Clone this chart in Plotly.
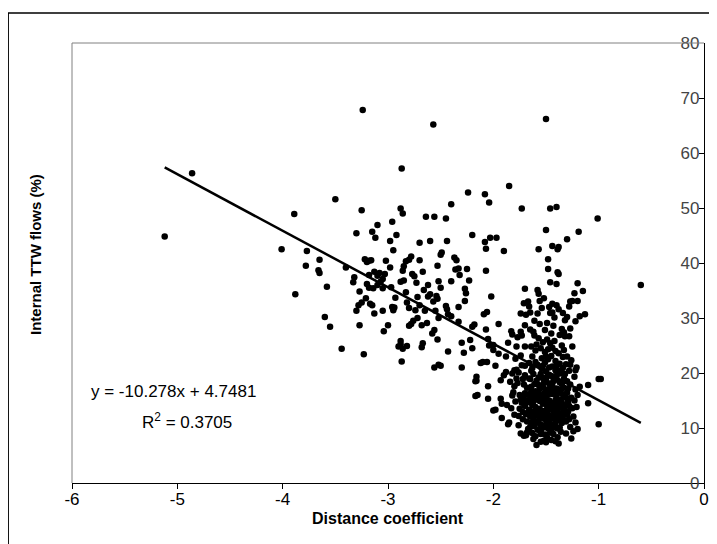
import plotly.graph_objects as go

# ---- data ----
pts_main = [
(-5.12,44.8),(-4.86,56.3),(-4.01,42.5),(-3.89,48.9),(-3.88,34.3),(-3.77,42.2),(-3.78,39.5),(-3.65,40.6),(-3.66,38.7),(-3.65,38.2),
(-3.58,35.7),(-3.6,30.2),(-3.55,28.4),(-3.5,51.6),(-3.44,24.4),(-3.4,39.2),(-3.33,36.5),(-3.32,37.4),(-3.3,45.4),(-3.3,31.3),
(-3.28,32.3),(-3.27,34.8),(-3.27,28.7),(-3.25,32.8),(-3.25,49.6),(-3.23,23.4),(-3.24,67.8),(-3.22,40.7),(-3.2,40.2),(-3.18,40.4),
(-3.16,40.5),(-3.2,36.2),(-3.18,35.5),(-3.21,33.6),(-3.17,32.6),(-3.15,32.3),(-3.13,30.8),(-3.14,35.4),(-3.15,45.7),(-3.12,44.6),
(-3.1,46.9),(-3.18,37.8),(-3.13,38.4),(-3.1,37.7),(-3.08,38.2),(-3.07,36.6),(-3.05,37.1),(-3.03,38.0),(-3.1,36.0),(-3.05,35.4),
(-3.04,27.6),(-3.05,31.3),(-3.0,28.7),(-3.02,40.4),(-2.98,39.2),(-2.97,35.6),(-2.96,32.0),(-2.95,31.4),(-2.94,31.9),(-2.93,33.7),
(-2.98,44.0),(-2.96,47.5),(-2.95,42.3),(-2.92,45.1),(-2.88,49.9),(-2.86,49.0),(-2.88,36.6),(-2.85,36.8),(-2.86,38.6),(-2.85,39.4),
(-2.83,40.3),(-2.8,40.6),(-2.78,41.2),(-2.87,57.2),(-2.88,25.2),(-2.9,24.8),(-2.86,24.4),(-2.87,22.1),(-2.82,24.9),(-2.88,25.8),
(-2.83,34.7),(-2.8,31.8),(-2.82,32.8),(-2.8,28.6),(-2.78,28.9),(-2.76,29.5),(-2.77,38.0),(-2.75,37.6),(-2.73,36.4),(-2.72,33.8),
(-2.7,32.3),(-2.74,31.4),(-2.72,30.0),(-2.7,43.7),(-2.7,40.5),(-2.67,38.4),(-2.66,35.1),(-2.65,31.3),(-2.68,28.7),(-2.67,25.4),
(-2.68,24.7),(-2.64,48.4),(-2.6,44.0),(-2.62,36.0),(-2.6,34.3),(-2.62,33.9),(-2.63,29.1),(-2.57,65.2),(-2.56,48.4),(-2.57,33.0),
(-2.55,31.3),(-2.58,27.2),(-2.56,27.8),(-2.56,21.0),(-2.52,21.5),(-2.5,21.3),(-2.53,39.5),(-2.52,36.7),(-2.54,34.0),(-2.53,33.5),
(-2.53,26.1),(-2.52,30.0),(-2.5,41.5),(-2.49,41.9),(-2.5,35.5),(-2.45,48.1),(-2.44,44.0),(-2.45,32.2),(-2.44,31.6),(-2.43,30.7),
(-2.43,23.9),(-2.4,50.7),(-2.4,36.7),(-2.4,30.3),(-2.37,41.0),(-2.35,40.5),(-2.36,38.8),(-2.33,39.0),(-2.32,37.8),(-2.33,32.0),
(-2.33,29.3),(-2.3,21.0),(-2.3,25.5),(-2.28,23.7),(-2.27,35.3),(-2.26,34.5),(-2.27,33.1),(-2.25,38.9),(-2.23,36.8),(-2.24,52.8),
(-2.2,45.1),(-2.2,28.4),(-2.18,28.8),(-2.2,24.5),(-2.22,26.0),(-2.16,19.3),(-2.17,18.5),(-2.16,18.6),(-2.17,15.8),(-2.15,16.0),
(-2.12,21.8),(-2.1,22.0),(-2.08,52.5),(-2.08,43.8),(-2.07,42.6),(-2.07,38.6),(-2.09,30.7),(-2.06,31.1),(-2.07,27.9),(-2.04,51.0),
(-2.03,44.6),(-2.02,33.9),(-2.05,26.2),(-2.04,25.0),(-2.06,22.0),(-2.05,17.6),(-2.05,15.3),(-2.0,24.2),(-1.98,13.3),(-2.0,13.2),
(-1.98,21.3),(-2.0,25.1),(-1.97,44.6),(-1.95,28.9),(-1.9,42.2),(-1.93,15.3),(-1.92,14.4),(-1.93,18.7),(-1.92,11.8),(-1.88,23.0),
(-1.86,25.5),(-1.87,14.2),(-1.85,11.0),(-1.86,10.7),(-1.85,54.0),(-1.83,27.6),(-1.82,27.0),(-1.82,19.9),(-1.8,20.5),(-1.8,17.6),
(-1.82,15.9),(-1.81,16.5),(-1.78,24.8),(-1.78,20.6),(-1.78,19.0),(-1.77,18.2),(-1.79,14.8),(-1.76,12.2),(-1.73,49.9),(-1.74,30.8),
(-1.74,27.5),(-1.73,26.8),(-1.73,21.4),(-1.74,23.2),(-1.72,18.9),(-1.73,14.6),(-1.7,35.3),(-1.7,28.7),(-1.71,32.7),(-1.69,30.6),
(-1.7,24.8),(-1.7,21.3),(-1.7,16.3),(-1.72,11.6),(-1.71,8.6),(-1.69,8.7),(-1.67,33.0),(-1.66,32.1),(-1.65,31.0),(-1.65,27.9),
(-1.64,20.4),(-1.65,15.4),(-1.62,27.5),(-1.61,26.8),(-1.6,22.0),(-1.58,35.1),(-1.57,34.4),(-1.57,42.5),(-1.56,33.1),(-1.59,6.9),
(-1.55,8.9),(-1.52,7.7),(-1.5,66.2),(-1.5,46.0),(-1.48,40.7),(-1.48,38.9),(-1.46,36.5),(-1.46,49.9),(-1.44,43.1),(-1.47,32.0),
(-1.46,30.9),(-1.44,32.6),(-1.44,31.0),(-1.4,50.2),(-1.39,42.5),(-1.38,42.9),(-1.39,38.3),(-1.38,38.0),(-1.4,36.2),(-1.4,32.3),
(-1.38,31.6),(-1.35,28.0),(-1.33,27.4),(-1.32,29.6),(-1.3,30.2),(-1.32,26.7),(-1.3,44.3),(-1.28,32.1),(-1.27,33.0),(-1.25,33.1),
(-1.27,28.1),(-1.28,26.7),(-1.23,34.5),(-1.2,36.3),(-1.2,33.1),(-1.18,30.3),(-1.15,34.9),(-1.13,30.7),(-1.22,29.4),(-1.19,45.7),
(-1.01,48.1),(-0.6,36.0),(-1.0,18.9),(-0.98,18.9),(-1.0,10.7),(-1.1,17.8),(-1.1,14.5),(-1.21,21.0),(-1.22,20.5),(-1.2,16.0),
(-1.2,9.8),(-1.18,17.5),
]

pts_cluster = [
(-1.76,20.1),(-1.75,16.0),(-1.74,15.2),(-1.75,13.5),(-1.72,12.9),(-1.71,15.8),(-1.7,14.0),(-1.69,12.5),(-1.68,11.2),(-1.7,19.6),
(-1.68,17.3),(-1.67,16.1),(-1.66,14.7),(-1.66,13.3),(-1.65,12.1),(-1.64,10.9),(-1.67,9.8),(-1.66,21.8),(-1.65,18.9),(-1.64,17.5),
(-1.63,15.9),(-1.63,14.2),(-1.62,13.0),(-1.62,11.6),(-1.61,10.3),(-1.63,9.1),(-1.62,19.8),(-1.61,18.0),(-1.6,16.7),(-1.6,15.2),
(-1.6,13.8),(-1.59,12.4),(-1.59,11.0),(-1.58,9.7),(-1.6,8.5),(-1.58,21.5),(-1.57,19.2),(-1.57,17.8),(-1.57,16.3),(-1.56,14.9),
(-1.56,13.5),(-1.56,12.0),(-1.55,10.6),(-1.55,9.4),(-1.57,26.3),(-1.55,24.5),(-1.54,22.7),(-1.54,20.8),(-1.53,19.1),(-1.53,17.4),
(-1.53,16.0),(-1.53,14.4),(-1.52,13.1),(-1.52,11.7),(-1.52,10.2),(-1.51,8.8),(-1.53,25.6),(-1.51,23.8),(-1.51,21.9),(-1.5,20.3),
(-1.5,18.6),(-1.5,17.0),(-1.5,15.5),(-1.49,14.0),(-1.49,12.6),(-1.49,11.3),(-1.48,9.9),(-1.5,7.4),(-1.49,26.1),(-1.48,24.3),
(-1.48,22.5),(-1.47,19.7),(-1.47,18.1),(-1.47,16.6),(-1.47,15.0),(-1.46,13.6),(-1.46,12.2),(-1.46,10.8),(-1.45,9.5),(-1.46,25.4),
(-1.45,23.1),(-1.44,21.2),(-1.44,19.4),(-1.44,17.7),(-1.44,16.2),(-1.43,14.6),(-1.43,13.2),(-1.43,11.8),(-1.42,10.4),(-1.43,8.9),
(-1.42,25.8),(-1.41,24.0),(-1.41,22.2),(-1.41,20.5),(-1.4,18.8),(-1.4,17.2),(-1.4,15.7),(-1.4,14.3),(-1.39,12.8),(-1.39,11.4),
(-1.39,9.9),(-1.38,7.2),(-1.39,8.3),(-1.38,23.6),(-1.37,21.7),(-1.37,19.9),(-1.37,18.3),(-1.36,16.8),(-1.36,15.1),(-1.36,13.7),
(-1.35,12.3),(-1.35,10.9),(-1.36,9.3),(-1.35,25.0),(-1.34,22.9),(-1.34,20.9),(-1.33,19.0),(-1.33,17.3),(-1.33,15.8),(-1.32,14.1),
(-1.32,12.7),(-1.31,11.2),(-1.33,24.2),(-1.31,21.6),(-1.3,18.5),(-1.3,16.4),(-1.29,14.8),(-1.29,13.0),(-1.28,11.6),(-1.27,10.2),
(-1.28,20.4),(-1.27,17.9),(-1.26,15.5),(-1.25,13.6),(-1.24,12.1),(-1.26,22.3),(-1.23,19.3),(-1.23,15.0),(-1.22,11.0),
(-1.95,23.5),(-1.9,19.6),(-1.88,20.2),(-1.84,18.4),(-1.83,13.6),(-1.8,12.4),(-1.79,22.6),(-1.77,26.5),(-1.76,10.5),(-1.74,9.0),
(-1.64,24.8),(-1.63,23.0),(-1.61,29.5),(-1.59,25.2),(-1.58,30.8),(-1.56,28.9),(-1.54,31.8),(-1.52,33.6),(-1.51,27.8),(-1.49,29.1),
(-1.45,27.2),(-1.43,28.6),(-1.42,30.1),(-1.37,26.9),(-1.34,30.9),(-1.3,23.0),(-1.27,21.5),(-1.25,24.8),(-1.22,17.0),(-1.21,13.8),
(-1.24,9.4),(-1.26,8.1),(-1.31,9.0),(-1.45,7.8),(-1.41,7.6),(-1.55,7.5),(-1.62,8.0),(-1.68,9.2),
(-1.69,15.0),(-1.67,12.8),(-1.65,10.2),(-1.64,16.6),(-1.62,14.8),(-1.61,12.2),(-1.6,10.9),(-1.59,18.6),(-1.58,13.1),(-1.58,15.9),
(-1.57,11.3),(-1.56,17.1),(-1.55,19.8),(-1.55,12.8),(-1.54,15.5),(-1.54,9.9),(-1.53,21.3),(-1.52,18.2),(-1.52,14.7),(-1.51,12.2),
(-1.51,16.4),(-1.5,10.7),(-1.5,23.0),(-1.49,19.3),(-1.49,8.3),(-1.48,16.1),(-1.48,13.2),(-1.47,11.6),(-1.47,21.0),(-1.46,17.4),
(-1.46,9.2),(-1.45,14.5),(-1.45,12.0),(-1.44,24.6),(-1.44,10.0),(-1.43,18.5),(-1.43,16.8),(-1.42,13.9),(-1.42,12.4),(-1.41,15.1),
(-1.41,10.9),(-1.4,21.2),(-1.4,19.5),(-1.39,16.3),(-1.39,13.6),(-1.38,11.8),(-1.38,14.9),(-1.37,17.0),(-1.37,10.1),(-1.36,12.6),
(-1.36,20.4),(-1.35,14.6),(-1.35,18.0),(-1.34,11.7),(-1.34,16.1),(-1.33,13.4),(-1.32,19.8),(-1.31,15.5),(-1.3,12.4),(-1.29,17.2),
(-1.28,14.0),(-1.66,19.0),(-1.63,20.9),(-1.6,24.1),(-1.71,17.9),
]

distance_coef = [p[0] for p in pts_main + pts_cluster]
internal_flows = [p[1] for p in pts_main + pts_cluster]

trend_slope = -10.278
trend_intercept = 4.7481
trend_x = [-5.12, -0.6]
trend_y = [trend_slope * x + trend_intercept for x in trend_x]

x_ticks = [-6, -5, -4, -3, -2, -1, 0]
y_ticks = [0, 10, 20, 30, 40, 50, 60, 70, 80]

FONT = "Liberation Sans, Arial, sans-serif"

fig = go.Figure()
fig.add_trace(go.Scatter(x=distance_coef, y=internal_flows, mode="markers",
                         marker=dict(color="black", size=6.5, line=dict(width=0)),
                         showlegend=False, cliponaxis=False))
fig.add_trace(go.Scatter(x=trend_x, y=trend_y, mode="lines",
                         line=dict(color="black", width=2.5), showlegend=False))

# the page has an 8px body margin, so margins are offset by 8px
fig.update_layout(
    width=717, height=544,
    margin=dict(l=64, r=21, t=35, b=69),
    paper_bgcolor="white", plot_bgcolor="white",
    font=dict(family=FONT, size=17, color="black"),
    xaxis=dict(range=[-6, 0], tickvals=x_ticks, ticktext=[str(v) for v in x_ticks],
               showgrid=False, zeroline=False, showline=True, linecolor="black", linewidth=1,
               ticks="outside", ticklen=5, tickcolor="black", tickfont=dict(size=17),
               ticklabelstandoff=-4),
    yaxis=dict(range=[0, 80], tickvals=y_ticks, side="right", showgrid=False, zeroline=False,
               showline=True, linecolor="black", linewidth=1,
               ticks="inside", ticklen=5, tickcolor="black", ticklabelposition="inside",
               ticklabeloverflow="allow", tickfont=dict(size=17)),
    shapes=[
        dict(type="line", xref="paper", yref="paper", x0=0, x1=1, y0=1, y1=1,
             line=dict(color="#808080", width=1)),
        dict(type="line", xref="paper", yref="paper", x0=0, x1=0, y0=0, y1=1,
             line=dict(color="#808080", width=1)),
        dict(type="rect", xref="paper", yref="paper", x0=-0.101, x1=1.04, y0=-0.2, y1=1.068,
             line=dict(color="black", width=1.5), fillcolor="rgba(0,0,0,0)"),
    ],
    annotations=[
        dict(text="<b>Distance coefficient</b>", xref="paper", yref="paper", x=0.5, y=-0.08,
             xanchor="center", yanchor="middle", showarrow=False, font=dict(size=16)),
        dict(text="<b>Internal TTW flows (%)</b>", xref="paper", yref="paper", x=-0.058, y=0.519,
             xanchor="center", yanchor="middle", showarrow=False, textangle=-90, font=dict(size=15)),
        dict(text="y = -10.278x + 4.7481", xref="paper", yref="paper", x=0.027, y=0.207,
             xanchor="left", yanchor="middle", showarrow=False, font=dict(size=17)),
        dict(text="R<sup>2</sup> = 0.3705", xref="paper", yref="paper", x=0.107, y=0.141,
             xanchor="left", yanchor="middle", showarrow=False, font=dict(size=17)),
    ],
)

fig.write_html("out.html")
